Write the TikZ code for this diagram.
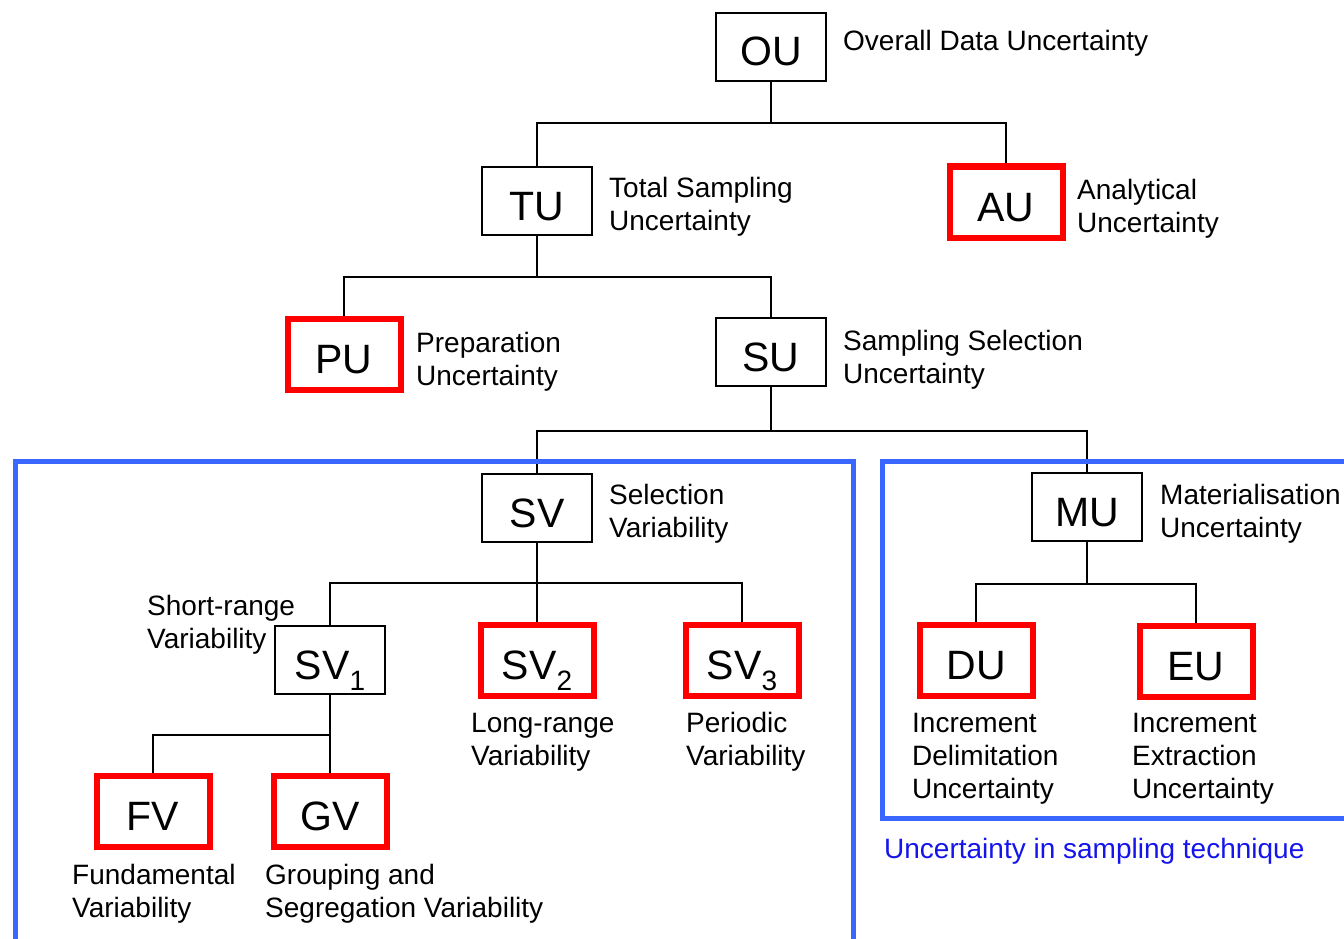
\documentclass[tikz,border=0pt]{standalone}
\usepackage{fontspec}
\setmainfont{Liberation Sans}
\definecolor{boxred}{RGB}{255,0,0}
\definecolor{frameblue}{RGB}{58,104,255}
\definecolor{capblue}{RGB}{20,20,235}
\newcommand{\lowidx}[1]{\raisebox{-11pt}{\fontsize{28}{28}\selectfont #1}}

\begin{document}
\begin{tikzpicture}[x=1pt,y=-1pt,
  unit/.style={draw=black, line width=2pt, minimum width=110pt, minimum height=68pt,
    inner sep=0pt, text height=38pt, text depth=0pt, font=\fontsize{41}{41}\selectfont},
  key/.style={unit, draw=boxred, line width=6pt, minimum width=113pt, minimum height=71pt},
  % multi-line notes are placed by the baseline of their last line
  note/.style={anchor=base west, inner sep=0pt, align=left, font=\fontsize{28}{33}\selectfont},
  link/.style={line width=2pt},
  frame/.style={draw=frameblue, line width=5pt}]

\useasboundingbox (0,0) rectangle (1344,939);
\clip (0,0) rectangle (1344,939);

% boxes
\node[unit] (OU) at (771,47)  {OU};
\node[unit] (TU) at (537,201) {TU};
\node[key]  (AU) at (1006,202) {AU};
\node[key]  (PU) at (344,354) {PU};
\node[unit] (SU) at (771,352) {SU};
\node[unit] (SV) at (537,508) {SV};
\node[unit] (MU) at (1087,507) {MU};
\node[unit] (SVa) at (330,660) {SV\lowidx{1}};
\node[key]  (SVb) at (537,660) {SV\lowidx{2}};
\node[key]  (SVc) at (742,660) {SV\lowidx{3}};
\node[key]  (FV) at (153,811) {FV};
\node[key]  (GV) at (330,811) {GV};
\node[key]  (DU) at (976,660) {DU};
\node[key]  (EU) at (1196,661) {EU};

% descriptions
\node[note] (tOU) at (843,51)  {Overall Data Uncertainty};
\node[note] (tTU) at (609,230) {Total Sampling\\Uncertainty};
\node[note] (tAU) at (1077,232) {Analytical\\Uncertainty};
\node[note] (tPU) at (416,385) {Preparation\\Uncertainty};
\node[note] (tSU) at (843,383) {Sampling Selection\\Uncertainty};
\node[note] (tSV) at (609,537) {Selection\\Variability};
\node[note] (tMU) at (1160,537) {Materialisation\\Uncertainty};
\node[note] (tSVa) at (147,648) {Short-range\\Variability};
\node[note] (tSVb) at (471,765) {Long-range\\Variability};
\node[note] (tSVc) at (686,765) {Periodic\\Variability};
\node[note] (tFV) at (72,917)  {Fundamental\\Variability};
\node[note] (tGV) at (265,917) {Grouping and\\Segregation Variability};
\node[note] (tDU) at (912,798) {Increment\\Delimitation\\Uncertainty};
\node[note] (tEU) at (1132,798) {Increment\\Extraction\\Uncertainty};
\node[note, text=capblue] (cap) at (884,858) {Uncertainty in sampling technique};

% tree connectors
\coordinate (j0) at (771,123);
\coordinate (j1) at (537,277);
\coordinate (j2) at (771,431);
\coordinate (j3) at (537,583);
\coordinate (j4) at (330,735);
\coordinate (j5) at (1087,584);

\draw[link] (OU.south) -- (j0) -| (TU.north);
\draw[link] (j0) -| (AU.north);
\draw[link] (TU.south) -- (j1) -| (PU.north);
\draw[link] (j1) -| (SU.north);
\draw[link] (SU.south) -- (j2) -| (SV.north);
\draw[link] (j2) -| (MU.north);
\draw[link] (SV.south) -- (j3) -| (SVa.north);
\draw[link] (j3) -- (SVb.north);
\draw[link] (j3) -| (SVc.north);
\draw[link] (SVa.south) -- (j4) -| (FV.north);
\draw[link] (j4) -- (GV.north);
\draw[link] (MU.south) -- (j5) -| (DU.north);
\draw[link] (j5) -| (EU.north);

% grouping frames
\draw[frame] (15,461) rectangle (853,970);
\draw[frame] (882,461) rectangle (1370,818);
\end{tikzpicture}
\end{document}
